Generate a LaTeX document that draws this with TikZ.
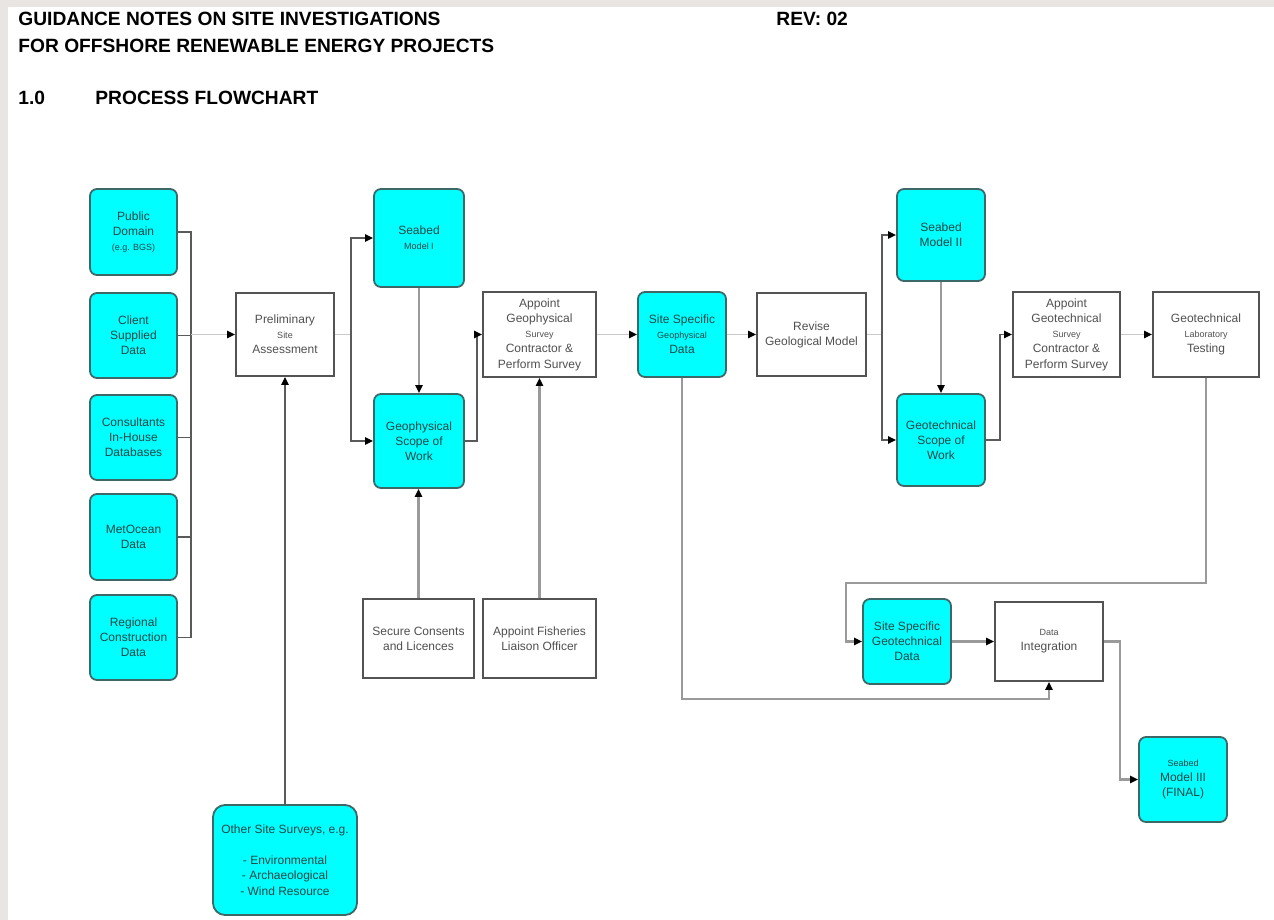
\documentclass[tikz,border=0pt]{standalone}
\usepackage{fontspec}
\setmainfont{Liberation Sans}
\usetikzlibrary{arrows.meta}
\definecolor{boxcyan}{HTML}{00FFFF}
\definecolor{boxedge}{HTML}{3E6868}
\definecolor{pagegray}{HTML}{E9E5E3}
\definecolor{linedark}{HTML}{5A5A5A}
\definecolor{linelight}{HTML}{C8C8C8}
\definecolor{linemid}{HTML}{9A9A9A}
\definecolor{tealtext}{HTML}{1E4646}
\definecolor{greytext}{HTML}{505050}
\newcommand{\smalltxt}[1]{{\fontsize{4.5}{6}\selectfont #1}}

\begin{document}
\begin{tikzpicture}[x=0.5pt,y=-0.5pt,
  >={Triangle[length=4pt,width=3.6pt,color=black]},
  boxsize/.style 2 args={minimum width=#1*0.5pt,minimum height=#2*0.5pt},
  databox/.style={draw=boxedge,line width=0.9pt,fill=boxcyan,rounded corners=3.5pt,
    align=center,text=tealtext,font=\fontsize{6}{7.6}\selectfont,inner sep=1pt},
  taskbox/.style={draw=gray!65!black,line width=0.9pt,fill=white,
    align=center,text=greytext,font=\fontsize{6}{7.6}\selectfont,inner sep=1pt},
  header/.style={anchor=west,inner sep=0pt,font=\bfseries\fontsize{9.6}{11}\selectfont},
  link/.style={draw=linedark,line width=0.8pt},
  flow/.style={draw=linelight,line width=0.8pt},
  heavy/.style={draw=linemid,line width=1.3pt}]

  % Page
  \fill[pagegray] (0,0) rectangle (1274,920);
  \fill[white] (8,7) rectangle (1274,920);

  % Header
  \node[header] (title1) at (18,19) {GUIDANCE NOTES ON SITE INVESTIGATIONS};
  \node[header] (title2) at (18,46) {FOR OFFSHORE RENEWABLE ENERGY PROJECTS};
  \node[header] (rev) at (776,19) {REV: 02};
  \node[header] (secnum) at (18,98) {1.0};
  \node[header] (sectitle) at (95,98) {PROCESS FLOWCHART};

  % Data sources
  \node[databox,boxsize={87}{86}] (pub) at (133.5,232) {Public\\Domain\\\smalltxt{(e.g. BGS)}};
  \node[databox,boxsize={87}{85}] (client) at (133.5,335.5) {Client\\Supplied\\Data};
  \node[databox,boxsize={87}{85}] (consult) at (133.5,437.5) {Consultants\\In-House\\Databases};
  \node[databox,boxsize={87}{86}] (metocean) at (133.5,537) {MetOcean\\Data};
  \node[databox,boxsize={87}{85}] (regional) at (133.5,637.5) {Regional\\Construction\\Data};

  % Geophysical stage
  \node[taskbox,boxsize={98}{83}] (prelim) at (285,334.5) {Preliminary\\\smalltxt{Site}\\Assessment};
  \node[databox,boxsize={90}{98}] (seabedI) at (419,238) {Seabed\\\smalltxt{Model I}};
  \node[databox,boxsize={90}{94}] (geophys) at (419,441) {Geophysical\\Scope of\\Work};
  \node[taskbox,boxsize={113}{85}] (appgeo) at (539.5,334.5) {Appoint\\Geophysical\\\smalltxt{Survey}\\Contractor \&\\Perform Survey};
  \node[databox,boxsize={88}{85}] (ssgeo) at (682,334.5) {Site Specific\\\smalltxt{Geophysical}\\Data};
  \node[taskbox,boxsize={111}{79}] (consents) at (418.5,638.5) {Secure Consents\\and Licences};
  \node[taskbox,boxsize={113}{79}] (fisheries) at (539.5,638.5) {Appoint Fisheries\\Liaison Officer};
  \node[databox,boxsize={144}{110},rounded corners=6pt] (others) at (285,860)
    {Other Site Surveys, e.g.\\[8pt]- Environmental\\- Archaeological\\- Wind Resource};

  % Geotechnical stage
  \node[taskbox,boxsize={109}{83}] (revise) at (811.5,334.5) {Revise\\Geological Model};
  \node[databox,boxsize={88}{92}] (seabedII) at (941,235) {Seabed\\Model II};
  \node[databox,boxsize={88}{92}] (geotech) at (941,440) {Geotechnical\\Scope of\\Work};
  \node[taskbox,boxsize={107}{85}] (appgt) at (1066.5,334.5) {Appoint\\Geotechnical\\\smalltxt{Survey}\\Contractor \&\\Perform Survey};
  \node[taskbox,boxsize={106}{85}] (lab) at (1206,334.5) {Geotechnical\\\smalltxt{Laboratory}\\Testing};
  \node[databox,boxsize={88}{85}] (ssgt) at (907,641.5) {Site Specific\\Geotechnical\\Data};
  \node[taskbox,boxsize={108}{79}] (dataint) at (1049,641.5) {\smalltxt{Data}\\Integration};
  \node[databox,boxsize={88}{85}] (seabedIII) at (1183,779.5) {\smalltxt{Seabed}\\Model III\\(FINAL)};

  % Collector from the data sources
  \coordinate (bus) at (191,232);
  \draw[link] (pub.east) -- (bus) -- (bus |- regional.east) -- (regional.east);
  \draw[link] (client.east) -- (client.east -| bus);
  \draw[link] (consult.east) -- (consult.east -| bus);
  \draw[link] (metocean.east) -- (metocean.east -| bus);
  \draw[flow,->] (prelim.west -| bus) -- (prelim.west);

  % Geophysical connectors
  \draw[flow] (prelim.east) -- ++(16,0) coordinate (branchI);
  \draw[link,<->] (seabedI.west) -| (branchI) |- (geophys.west);
  \draw[heavy,->] (seabedI) -- (geophys);
  \draw[link,->] (geophys.east) -- ++(12,0) |- (appgeo.west);
  \draw[heavy,->] (consents.north) -- (consents.north |- geophys.south);
  \draw[heavy,->] (fisheries) -- (appgeo);
  \draw[link,->] (others) -- (prelim);
  \draw[flow,->] (appgeo) -- (ssgeo);
  \draw[flow,->] (ssgeo) -- (revise);

  % Geotechnical connectors
  \draw[flow] (revise.east) -- ++(15,0) coordinate (branchII);
  \draw[link,<->] (seabedII.west) -| (branchII) |- (geotech.west);
  \draw[heavy,->] (seabedII) -- (geotech);
  \draw[link,->] (geotech.east) -- ++(14,0) |- (appgt.west);
  \draw[flow,->] (appgt) -- (lab);
  \coordinate (loop) at (846,583);
  \draw[heavy,->] (lab.south) |- (loop) |- (ssgt.west);
  \draw[heavy,->] (ssgt) -- (dataint);
  \coordinate (low) at (682,699);
  \draw[heavy,->] (ssgeo.south) -- (low) -| (dataint.south);
  \draw[heavy,->] (dataint.east) -- ++(16,0) |- (seabedIII.west);

\end{tikzpicture}
\end{document}
